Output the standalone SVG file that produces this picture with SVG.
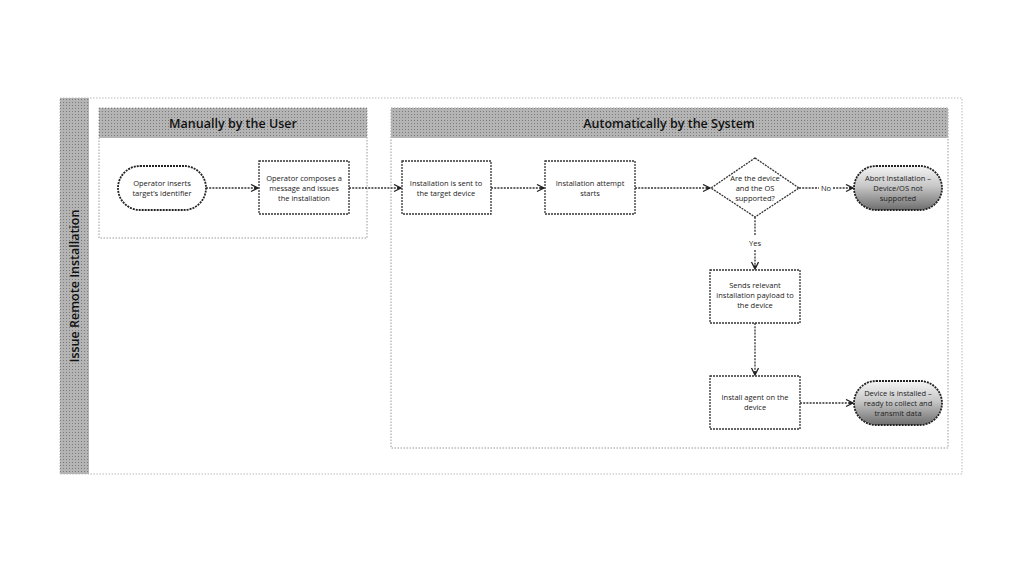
<svg xmlns="http://www.w3.org/2000/svg" width="1024" height="576" viewBox="0 0 1024 576">
<defs>
<pattern id="dots" width="3" height="3" patternUnits="userSpaceOnUse">
<rect width="3" height="3" fill="#b4b4b4"/>
<rect width="1" height="1" fill="#7c7c7c"/>
</pattern>
<linearGradient id="grad" x1="0" y1="0" x2="0" y2="1">
<stop offset="0" stop-color="#f4f4f4"/>
<stop offset="0.45" stop-color="#c8c8c8"/>
<stop offset="1" stop-color="#6e6e6e"/>
</linearGradient>
<marker id="arr" markerWidth="10" markerHeight="10" refX="8" refY="4" orient="auto" markerUnits="userSpaceOnUse">
<path d="M1,0.5 L8,4 L1,7.5 M4,4 L8,4" fill="none" stroke="#222" stroke-width="1.3"/>
</marker>
<style>
.frame{fill:none;stroke:#bbb;stroke-width:1;stroke-dasharray:1.5 1.5}
.lane{fill:#fff;stroke:#999;stroke-width:1;stroke-dasharray:1.5 1.5}
.hdr{fill:url(#dots)}
.box{fill:#fff;stroke:#333;stroke-width:1.3;stroke-dasharray:2 1}
.term{fill:#fff;stroke:#222;stroke-width:1.8;stroke-dasharray:2 1}
.termg{fill:url(#grad);stroke:#222;stroke-width:1.8;stroke-dasharray:2 1}
.t{font-family:"Open Sans","DejaVu Sans",sans-serif;font-size:7.5px;fill:#222;text-anchor:middle}
.h{font-family:"Open Sans","DejaVu Sans",sans-serif;font-size:12.5px;font-weight:600;fill:#111;text-anchor:middle}
.c{fill:none;stroke:#333;stroke-width:1.3;stroke-dasharray:2 1.2;marker-end:url(#arr)}
.lbl{font-family:"Open Sans","DejaVu Sans",sans-serif;font-size:7.5px;fill:#222;text-anchor:middle}
</style>
</defs>
<rect width="1024" height="576" fill="#fff"/>
<g id="pool">
<rect class="frame" x="60" y="98" width="902" height="376"/>
<rect class="hdr" x="60" y="98" width="29" height="376"/>
<text class="h" transform="translate(79,286) rotate(-90)">Issue Remote Installation</text>
</g>
<g id="lane-user">
<rect class="lane" x="99" y="108" width="268" height="130"/>
<rect class="hdr" x="99" y="108" width="268" height="30"/>
<text class="h" x="233" y="128">Manually by the User</text>
</g>
<g id="lane-system">
<rect class="lane" x="391" y="108" width="557" height="340"/>
<rect class="hdr" x="391" y="108" width="557" height="30"/>
<text class="h" x="669" y="128">Automatically by the System</text>
</g>
<g id="connectors">
<path class="c" d="M206,188 H258"/>
<path class="c" d="M349,188 H401"/>
<path class="c" d="M491,188 H544"/>
<path class="c" d="M635,188 H710"/>
<path class="c" d="M799,188 H819 M833,188 H853"/>
<text class="lbl" x="826" y="191">No</text>
<path class="c" d="M755,217 V236 M755,250 V269"/>
<text class="lbl" x="755" y="246">Yes</text>
<path class="c" d="M755,323 V375"/>
<path class="c" d="M800,403 H853"/>
</g>
<g id="n1">
<rect class="term" x="118" y="166" width="88" height="44" rx="22"/>
<text class="t" x="162" y="186">Operator inserts</text>
<text class="t" x="162" y="196">target’s identifier</text>
</g>
<g id="n2">
<rect class="box" x="259" y="161" width="90" height="53"/>
<text class="t" x="304" y="181">Operator composes a</text>
<text class="t" x="304" y="191">message and issues</text>
<text class="t" x="304" y="201">the installation</text>
</g>
<g id="n3">
<rect class="box" x="402" y="161" width="89" height="53"/>
<text class="t" x="446" y="186">Installation is sent to</text>
<text class="t" x="446" y="196">the target device</text>
</g>
<g id="n4">
<rect class="box" x="545" y="161" width="90" height="53"/>
<text class="t" x="590" y="186">Installation attempt</text>
<text class="t" x="590" y="196">starts</text>
</g>
<g id="n5">
<path class="box" d="M755,158 L799,188 L755,217 L711,188 Z"/>
<text class="t" x="755" y="181">Are the device</text>
<text class="t" x="755" y="191">and the OS</text>
<text class="t" x="755" y="201">supported?</text>
</g>
<g id="n6">
<rect class="termg" x="854" y="166" width="88" height="44" rx="22"/>
<text class="t" x="898" y="181">Abort Installation –</text>
<text class="t" x="898" y="191">Device/OS not</text>
<text class="t" x="898" y="201">supported</text>
</g>
<g id="n7">
<rect class="box" x="710" y="270" width="90" height="53"/>
<text class="t" x="755" y="288">Sends relevant</text>
<text class="t" x="755" y="298">installation payload to</text>
<text class="t" x="755" y="308">the device</text>
</g>
<g id="n8">
<rect class="box" x="710" y="376" width="90" height="53"/>
<text class="t" x="755" y="400">Install agent on the</text>
<text class="t" x="755" y="410">device</text>
</g>
<g id="n9">
<rect class="termg" x="854" y="381" width="88" height="44" rx="22"/>
<text class="t" x="898" y="396">Device is installed –</text>
<text class="t" x="898" y="406">ready to collect and</text>
<text class="t" x="898" y="416">transmit data</text>
</g>
</svg>
